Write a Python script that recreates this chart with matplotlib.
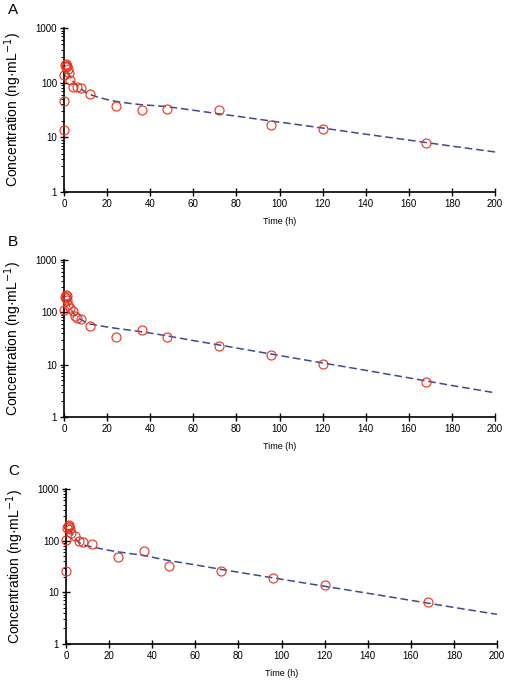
import matplotlib
matplotlib.use("Agg")
import matplotlib.pyplot as plt
from matplotlib.ticker import LogLocator, FixedLocator, NullFormatter

plt.rcParams['font.family'] = ['Liberation Sans', 'DejaVu Sans']

# observed concentrations (ng/mL) vs time (h)
tA = [0, 0, 0, 0.5, 0.75, 1, 1.5, 2, 2.5, 3, 4, 6, 8, 12, 24, 36, 48, 72, 96, 120, 168]
cA = [13.5, 47, 140, 210, 195, 220, 200, 175, 150, 112, 85, 82, 80, 63, 38, 32, 33, 32, 16.5, 14, 8]

tB = [0, 0.5, 0.75, 1, 1.25, 1.5, 2, 3, 4, 5, 6, 8, 12, 24, 36, 48, 72, 96, 120, 168]
cB = [110, 195, 210, 190, 205, 175, 140, 120, 105, 85, 77, 75, 56, 34, 45, 34, 23, 15, 10.2, 4.7]

tC = [0, 0, 0.5, 1, 1.25, 1.5, 2, 2.5, 4, 6, 8, 12, 24, 36, 48, 72, 96, 120, 168]
cC = [26, 103, 175, 190, 200, 185, 170, 140, 123, 100, 95, 87, 49, 63, 33, 26, 18.7, 13.8, 6.5]

# fitted model curves
tFit = [1.5, 2, 3, 4, 6, 8, 10, 12, 16, 20, 24, 30, 36, 42, 48, 60, 72, 84, 96, 108, 120, 140, 160, 180, 200]
fitA = [165, 150, 125, 108, 88, 76, 67, 61, 54, 49, 45.5, 42, 39.5, 38, 36.3, 31.3, 26.9, 23.2, 19.9, 17.2, 14.8, 11.4, 8.9, 6.9, 5.4]
fitB = [175, 150, 120, 100, 82, 72, 65, 60, 56, 52.5, 49.5, 46, 42.5, 39, 35.4, 28.9, 23.8, 19.5, 16.0, 13.1, 10.8, 7.8, 5.6, 4.0, 2.9]
fitC = [170, 155, 130, 112, 92, 83, 79, 76, 70, 65, 61, 56, 52, 46, 41, 34, 27.8, 23, 19.1, 15.8, 13.1, 9.6, 7.0, 5.1, 3.75]

xticks = list(range(0, 201, 20))
yticks = [1, 10, 100, 1000]

W, H = 505, 684
fig = plt.figure(figsize=(W / 100, H / 100), dpi=100)

# axes boxes in pixels: left, right, top, bottom
boxes = [(64, 495, 28, 192), (64, 495, 260, 417), (66, 497, 489, 644)]
panels = [("A", tA, cA, fitA), ("B", tB, cB, fitB), ("C", tC, cC, fitC)]

for (l, r, t, b), (name, tt, cc, fit) in zip(boxes, panels):
    ax = fig.add_axes([l / W, 1 - b / H, (r - l) / W, (b - t) / H])
    ax.plot(tFit, fit, color='#3c4a92', lw=1.1, ls=(0, (5, 2.5)), zorder=2)
    ax.plot(tt, cc, 'o', mfc='none', mec='#e8321e', mew=0.8, ms=6.5, zorder=3, clip_on=False)
    ax.set_yscale('log')
    ax.set_xlim(0, 200)
    ax.set_ylim(1, 1000)
    ax.xaxis.set_major_locator(FixedLocator(xticks))
    ax.set_xticklabels([str(x) for x in xticks], fontsize=7)
    ax.yaxis.set_major_locator(FixedLocator(yticks))
    ax.set_yticklabels([str(y) for y in yticks], fontsize=7)
    ax.yaxis.set_minor_locator(LogLocator(base=10, subs=range(2, 10)))
    ax.yaxis.set_minor_formatter(NullFormatter())
    ax.tick_params(which='major', direction='inout', length=6, width=1, pad=2)
    ax.tick_params(axis='y', which='minor', direction='out', length=2.5, width=0.7)
    for s in ['top', 'right']:
        ax.spines[s].set_visible(False)
    for s in ['left', 'bottom']:
        ax.spines[s].set_linewidth(1.2)
    ax.set_xlabel('Time (h)', fontsize=6.5, labelpad=6)
    ax.set_ylabel('Concentration (ng\u00b7mL$^{-1}$)', fontsize=10, labelpad=8)
    fig.text(8 / W, 1 - (t - 18) / H, name, fontsize=11, va='center', ha='left')

fig.savefig('out.png', dpi=100)
